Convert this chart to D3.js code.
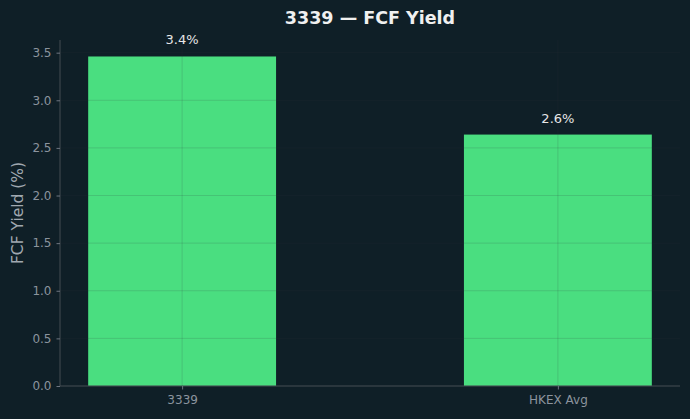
<!DOCTYPE html>
<head>
  <meta charset="utf-8" />
  <title>3339 FCF Yield</title>
  <style>
    body { margin: 0; background: #0f1f27; }
    svg { display: block; font-family: "DejaVu Sans", sans-serif; }
  </style>
</head>
<body>
  <script src="https://cdn.jsdelivr.net/npm/d3@7"></script>
  <script>
    // data
    var categories = ["3339", "HKEX Avg"];
    var values = [3.46, 2.64];
    var valueLabels = ["3.4%", "2.6%"];
    var yTicks = [0, 0.5, 1.0, 1.5, 2.0, 2.5, 3.0, 3.5];

    var width = 690, height = 419;
    // note: "top" is a reserved window global, so use plot* names
    var plotLeft = 60, plotRight = 680, plotTop = 40, plotBottom = 386;

    var svg = d3.select("body").append("svg")
      .attr("width", width).attr("height", height);
    svg.append("rect").attr("width", width).attr("height", height).attr("fill", "#0f1f27");

    // bars are 0.5 wide, 5% margins like matplotlib
    var x = d3.scaleLinear().domain([-0.325, 1.325]).range([plotLeft, plotRight]);
    var y = d3.scaleLinear().domain([0, d3.max(values) * 1.05]).range([plotBottom, plotTop]);

    svg.append("g")
      .selectAll("rect")
      .data(values)
      .enter()
      .append("rect")
      .attr("x", function (d, i) { return x(i - 0.25); })
      .attr("width", function (d, i) { return x(i + 0.25) - x(i - 0.25); })
      .attr("y", function (d) { return y(d); })
      .attr("height", function (d) { return y(0) - y(d); })
      .attr("fill", "#4ade80");

    // grid on top of bars
    var grid = svg.append("g").attr("stroke", "#30363d").attr("stroke-opacity", 0.2).attr("stroke-width", 0.8);
    grid.selectAll(".gy").data(yTicks).enter().append("line")
      .attr("x1", plotLeft).attr("x2", plotRight)
      .attr("y1", function (d) { return y(d); }).attr("y2", function (d) { return y(d); });
    grid.selectAll(".gx").data(categories).enter().append("line")
      .attr("x1", function (d, i) { return x(i); }).attr("x2", function (d, i) { return x(i); })
      .attr("y1", plotTop).attr("y2", plotBottom);

    // value labels
    svg.append("g")
      .selectAll("text")
      .data(values)
      .enter()
      .append("text")
      .attr("x", function (d, i) { return x(i); })
      .attr("y", function (d) { return y(d) - 12; })
      .attr("text-anchor", "middle")
      .attr("fill", "#e6e6e6")
      .style("font-size", "13px")
      .text(function (d, i) { return valueLabels[i]; });

    // axes
    var yAxis = svg.append("g").attr("transform", "translate(" + plotLeft + ",0)")
      .call(d3.axisLeft(y).tickValues(yTicks).tickFormat(d3.format(".1f")).tickSize(3.5).tickPadding(5));
    var xAxis = svg.append("g").attr("transform", "translate(0," + plotBottom + ")")
      .call(d3.axisBottom(x).tickValues([0, 1]).tickFormat(function (d) { return categories[d]; }).tickSize(3.5).tickPadding(6));

    [xAxis, yAxis].forEach(function (ax) {
      ax.select(".domain").attr("stroke", "#444c52");
      ax.selectAll(".tick line").attr("stroke", "#6e7681");
      ax.selectAll(".tick text").attr("fill", "#8b949e").style("font-size", "12px").style("font-family", "DejaVu Sans");
    });
    xAxis.select(".domain").attr("d", "M" + plotLeft + ",0H" + plotRight);
    yAxis.select(".domain").attr("d", "M0," + plotBottom + "V" + plotTop);

    // title and label
    svg.append("text")
      .attr("x", (plotLeft + plotRight) / 2).attr("y", 24)
      .attr("text-anchor", "middle")
      .attr("fill", "#f0f0f0")
      .style("font-size", "17.5px").style("font-weight", "bold")
      .text("3339 — FCF Yield");

    svg.append("text")
      .attr("transform", "translate(23," + (plotTop + plotBottom) / 2 + ") rotate(-90)")
      .attr("text-anchor", "middle")
      .attr("fill", "#a0a8b0")
      .style("font-size", "15.5px")
      .text("FCF Yield (%)");
  </script>
</body>
